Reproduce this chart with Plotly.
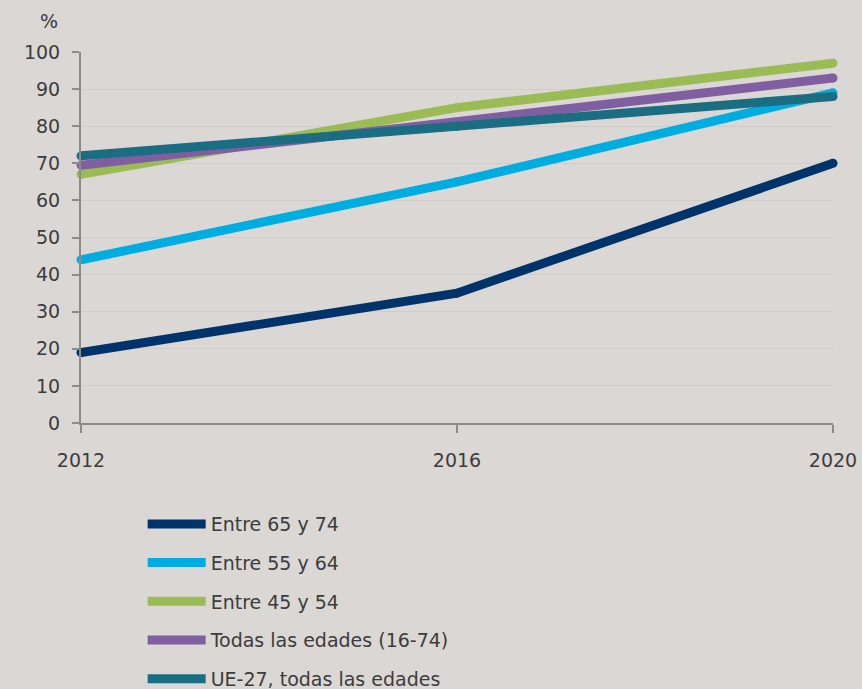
import plotly.graph_objects as go

years = [2012, 2016, 2020]
series_names = ["Entre 65 y 74", "Entre 55 y 64", "Entre 45 y 54",
                "Todas las edades (16-74)", "UE-27, todas las edades"]
v_65_74 = [19, 35, 70]
v_55_64 = [44, 65, 89]
v_45_54 = [67, 85, 97]
v_todas = [69.5, 81, 93]
v_ue27 = [72, 80, 88]
values = [v_65_74, v_55_64, v_45_54, v_todas, v_ue27]
colors = ["#00336a", "#00ade0", "#9bbb55", "#7f5fa0", "#1b6e82"]
y_ticks = list(range(0, 101, 10))
x_ticks = [2012, 2016, 2020]

BG = "#dad7d4"
FONT = "DejaVu Sans"
TXT = "#3c3c3c"

fig = go.Figure()
for i, (name, vals, col) in enumerate(zip(series_names, values, colors)):
    fig.add_trace(go.Scatter(
        x=years, y=vals, name=name, mode="lines",
        line=dict(color=col, width=9),
        legendgroup=f"g{i}", cliponaxis=False,
        hoverinfo="skip"))
    fig.add_trace(go.Scatter(
        x=years, y=vals, mode="markers", showlegend=False,
        marker=dict(color=col, size=9, line=dict(width=0)),
        legendgroup=f"g{i}", cliponaxis=False, hoverinfo="skip"))

fig.update_layout(
    width=862, height=689,
    paper_bgcolor=BG, plot_bgcolor=BG,
    margin=dict(l=81, r=29, t=52, b=266),
    font=dict(family=FONT, size=19, color=TXT),
    showlegend=True,
    legend=dict(
        xref="paper", yref="container",
        x=0.082, y=0.267, xanchor="left", yanchor="top",
        orientation="v", bgcolor="rgba(0,0,0,0)",
        font=dict(family=FONT, size=19, color=TXT),
        tracegroupgap=11, itemwidth=58,
    ),
    xaxis=dict(
        range=[2012, 2020], tickvals=x_ticks, ticktext=[str(t) for t in x_ticks],
        showgrid=False, zeroline=False, automargin=False,
        showline=True, linecolor="#8c8b88", linewidth=2,
        ticks="outside", ticklen=8, tickcolor="#8c8b88", tickwidth=2,
        tickfont=dict(family=FONT, size=19, color=TXT),
        ticklabelstandoff=11,
    ),
    yaxis=dict(
        range=[0, 100], tickvals=y_ticks,
        showgrid=True, gridcolor="#cfccc9", gridwidth=1,
        zeroline=False, automargin=False,
        showline=True, linecolor="#8c8b88", linewidth=2,
        ticks="outside", ticklen=7, tickcolor="#8c8b88", tickwidth=2,
        tickfont=dict(family=FONT, size=19, color=TXT),
        ticklabelstandoff=8,
    ),
    annotations=[dict(
        text="%", xref="paper", yref="paper", x=-0.043, y=1.0,
        xanchor="center", yanchor="bottom", yshift=18, showarrow=False,
        font=dict(family=FONT, size=19, color=TXT))],
)

fig.write_html("out.html", config={"displayModeBar": False},
               post_script="document.body.style.margin='0';")
